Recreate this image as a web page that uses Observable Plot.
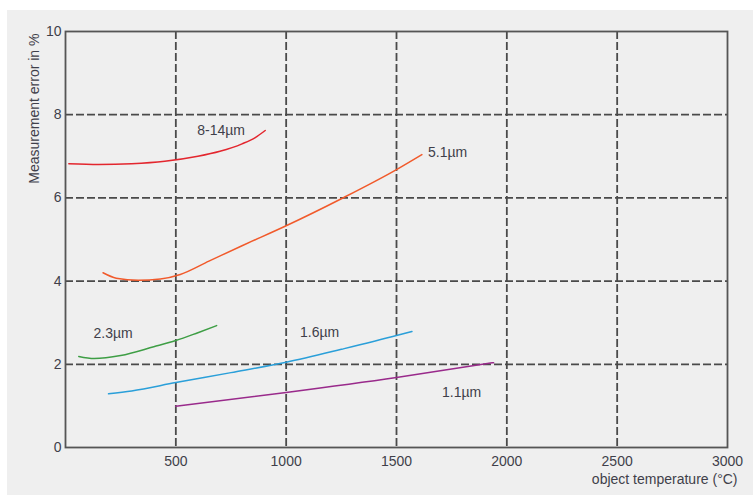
<!DOCTYPE html>
<html>
<head>
<meta charset="utf-8">
<script src="https://cdn.jsdelivr.net/npm/d3@7"></script>
<script src="https://cdn.jsdelivr.net/npm/@observablehq/plot@0.6"></script>
<style>
  html, body { margin: 0; padding: 0; background: #ffffff; }
  #chart { margin: 10px 0 0 7px; width: 746px; height: 485px; background: #efefef; }
</style>
</head>
<body>
<div id="chart"></div>
<script>
// --- data (object temperature in °C, measurement error in %) ---
const series = ["8-14µm", "5.1µm", "2.3µm", "1.6µm", "1.1µm"];
const colors = ["#e3262e", "#f15a2b", "#3e9e45", "#2a9fd9", "#992a8b"];

const temp_8_14 = [15, 150, 300, 450, 600, 700, 800, 860, 905];
const err_8_14  = [6.82, 6.80, 6.82, 6.88, 7.00, 7.12, 7.30, 7.45, 7.62];

const temp_5_1 = [170, 230, 330, 430, 520, 650, 800, 1000, 1250, 1500, 1615];
const err_5_1  = [4.20, 4.07, 4.02, 4.05, 4.16, 4.48, 4.85, 5.33, 5.98, 6.68, 7.04];

const temp_2_3 = [60, 130, 250, 400, 500, 600, 685];
const err_2_3  = [2.19, 2.14, 2.21, 2.42, 2.57, 2.76, 2.93];

const temp_1_6 = [195, 300, 500, 750, 1000, 1250, 1500, 1570];
const err_1_6  = [1.29, 1.36, 1.56, 1.80, 2.05, 2.36, 2.69, 2.79];

const temp_1_1 = [500, 1000, 1500, 1940];
const err_1_1  = [0.99, 1.32, 1.68, 2.04];

const labelX = [597, 1643, 127, 1063, 1706];
const labelY = [7.62, 7.09, 2.74, 2.77, 1.32];

const xTicks = [500, 1000, 1500, 2000, 2500, 3000];
const yTicks = [0, 2, 4, 6, 8, 10];
const xGrid = [500, 1000, 1500, 2000, 2500];
const yGrid = [2, 4, 6, 8];

const xTitle = "object temperature (°C)";
const yTitle = "Measurement error in %";

// --- build table ---
const temps = [temp_8_14, temp_5_1, temp_2_3, temp_1_6, temp_1_1];
const errs = [err_8_14, err_5_1, err_2_3, err_1_6, err_1_1];
const rows = [];
series.forEach((s, i) => temps[i].forEach((t, j) => rows.push({series: s, t, e: errs[i][j]})));
const labels = series.map((s, i) => ({series: s, t: labelX[i], e: labelY[i]}));

const font = "'Liberation Sans', Arial, sans-serif";
const textColor = "#3f3f4a";
const gridColor = "#4a4a4a";

const chart = Plot.plot({
  width: 746,
  height: 485,
  marginLeft: 58,
  marginRight: 26,
  marginTop: 21,
  marginBottom: 48,
  style: {background: "transparent", fontFamily: font, color: textColor},
  x: {domain: [0, 3000]},
  y: {domain: [0, 10]},
  color: {domain: series, range: colors},
  marks: [
    Plot.ruleX(xGrid, {stroke: gridColor, strokeWidth: 1.8, strokeDasharray: "8,3"}),
    Plot.ruleY(yGrid, {stroke: gridColor, strokeWidth: 1.8, strokeDasharray: "8,3"}),
    Plot.frame({stroke: "#555555", strokeWidth: 1.8}),
    Plot.line(rows, {x: "t", y: "e", z: "series", stroke: "series", strokeWidth: 1.5, curve: "monotone-x"}),
    Plot.text(labels, {x: "t", y: "e", text: "series", textAnchor: "start", fontSize: 14, fill: textColor, letterSpacing: "-0.3px"}),
    Plot.axisX(xTicks, {tickSize: 0, tickPadding: 9, fontSize: 14, label: null, fill: textColor, tickFormat: d3.format("d"), letterSpacing: "-0.4px"}),
    Plot.axisY(yTicks, {tickSize: 0, tickPadding: 4, fontSize: 14, label: null, fill: textColor, tickFormat: d3.format("d"), letterSpacing: "-0.4px"}),
    Plot.text([xTitle], {frameAnchor: "bottom-right", textAnchor: "end", dx: 10, dy: 36, fontSize: 14, fill: textColor, letterSpacing: "-0.4px"}),
    Plot.text([yTitle], {frameAnchor: "top-left", textAnchor: "end", rotate: -90, dx: -36, dy: 2, fontSize: 14, fill: textColor, letterSpacing: "-0.3px"})
  ]
});
document.getElementById("chart").appendChild(chart);
</script>
</body>
</html>
